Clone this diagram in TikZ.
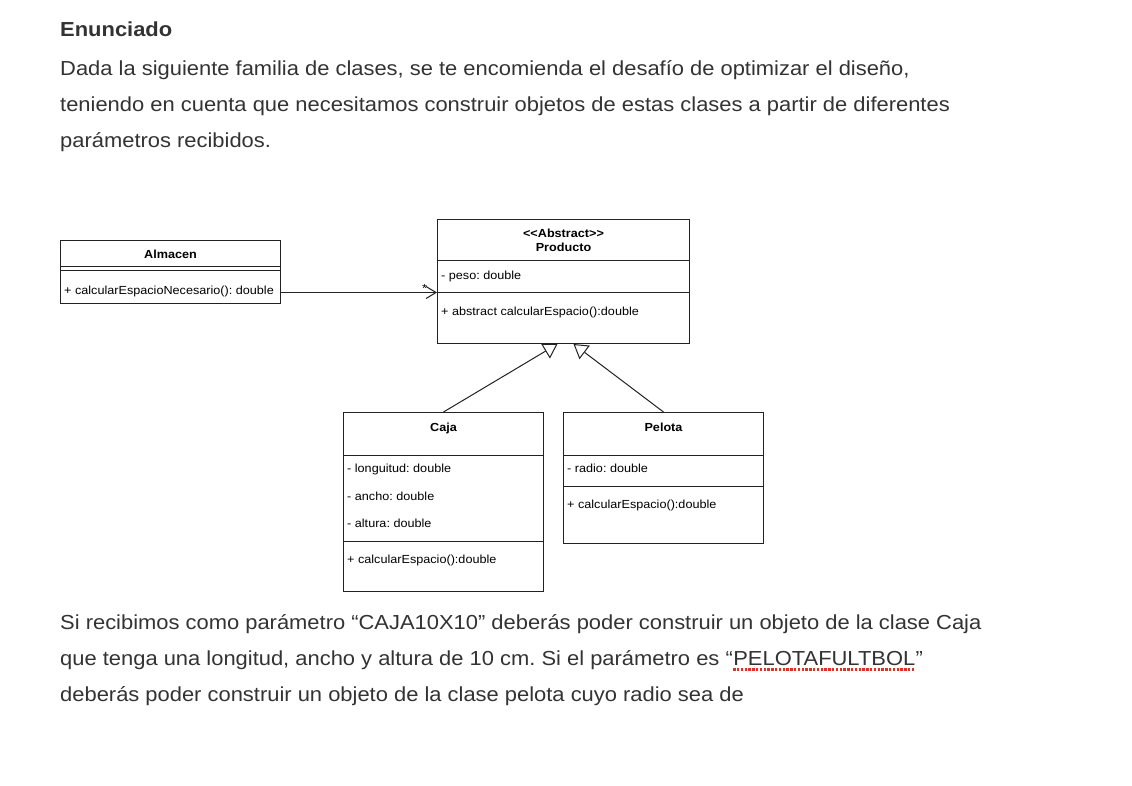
\documentclass[tikz,border=0pt]{standalone}
\usepackage{fontspec}
\setmainfont{Liberation Sans}[FakeStretch=1.08]
\usetikzlibrary{arrows.meta}
\frenchspacing
\definecolor{bodytxt}{HTML}{333333}
\definecolor{linec}{HTML}{222222}
\definecolor{squig}{HTML}{E0302A}
\tikzset{
  body/.style={anchor=base west, inner sep=0pt, text=bodytxt, font=\fontsize{20.3}{24}\selectfont},
  cls/.style={draw=linec, line width=1pt, fill=white, anchor=north west, inner sep=0pt},
  sep/.style={draw=linec, line width=1pt},
  mtext/.style={anchor=west, inner sep=0pt, text height=8.4pt, text depth=0pt, font=\fontsize{11.7}{14}\selectfont},
  ttext/.style={anchor=center, inner sep=0pt, text height=8.4pt, text depth=0pt, font=\fontsize{11.7}{14}\selectfont\bfseries},
  assoc/.style={draw=linec, line width=1pt, -{Straight Barb[length=10pt,width=12pt,line width=1pt]}},
  inherit/.style={draw=linec, line width=1pt, -{Triangle[open,length=14pt,width=17pt,line width=1pt,fill=white]}},
}
\begin{document}
\begin{tikzpicture}[x=1pt,y=-1pt]
\useasboundingbox[fill=white] (0,0) rectangle (1132,786);

% heading and body text
\node[body, font=\fontsize{20.3}{24}\selectfont\bfseries] (head) at (60,37) {Enunciado};
\node[body] (t1) at (60,76) {Dada la siguiente familia de clases, se te encomienda el desafío de optimizar el diseño,};
\node[body] (t2) at (60,112) {teniendo en cuenta que necesitamos construir objetos de estas clases a partir de diferentes};
\node[body] (t3) at (60,148) {parámetros recibidos.};

% Almacen
\node[cls, minimum width=220pt, minimum height=63pt] (alm) at (60,240) {};
\draw[sep] ([yshift=-27pt]alm.north west) -- ([yshift=-27pt]alm.north east);
\draw[sep] ([yshift=-31pt]alm.north west) -- ([yshift=-31pt]alm.north east);
\node[ttext] (almt) at ([yshift=-14pt]alm.north) {Almacen};
\node[mtext] (almm) at ([xshift=4pt,yshift=-50pt]alm.north west) {+ calcularEspacioNecesario(): double};

% Producto
\node[cls, minimum width=252pt, minimum height=124pt] (prod) at (437,219) {};
\node[ttext] (prods) at ([yshift=-14pt]prod.north) {<{}<Abstract>{}>};
\node[ttext] (prodt) at ([yshift=-28pt]prod.north) {Producto};
\draw[sep] ([yshift=-42pt]prod.north west) -- ([yshift=-42pt]prod.north east);
\node[mtext] (proda) at ([xshift=4pt,yshift=-56pt]prod.north west) {- peso: double};
\draw[sep] ([yshift=-74pt]prod.north west) -- ([yshift=-74pt]prod.north east);
\node[mtext] (prodm) at ([xshift=4pt,yshift=-92pt]prod.north west) {+ abstract calcularEspacio():double};

% Caja
\node[cls, minimum width=200pt, minimum height=179pt] (caja) at (343,412) {};
\node[ttext] (cajat) at ([yshift=-15pt]caja.north) {Caja};
\draw[sep] ([yshift=-43pt]caja.north west) -- ([yshift=-43pt]caja.north east);
\node[mtext] (cajaa1) at ([xshift=4pt,yshift=-56pt]caja.north west) {- longuitud: double};
\node[mtext] (cajaa2) at ([xshift=4pt,yshift=-84pt]caja.north west) {- ancho: double};
\node[mtext] (cajaa3) at ([xshift=4pt,yshift=-111pt]caja.north west) {- altura: double};
\draw[sep] ([yshift=-129pt]caja.north west) -- ([yshift=-129pt]caja.north east);
\node[mtext] (cajam) at ([xshift=4pt,yshift=-147pt]caja.north west) {+ calcularEspacio():double};

% Pelota
\node[cls, minimum width=200pt, minimum height=131pt] (pel) at (563,412) {};
\node[ttext] (pelt) at ([yshift=-15pt]pel.north) {Pelota};
\draw[sep] ([yshift=-43pt]pel.north west) -- ([yshift=-43pt]pel.north east);
\node[mtext] (pela) at ([xshift=4pt,yshift=-56pt]pel.north west) {- radio: double};
\draw[sep] ([yshift=-74pt]pel.north west) -- ([yshift=-74pt]pel.north east);
\node[mtext] (pelm) at ([xshift=4pt,yshift=-92pt]pel.north west) {+ calcularEspacio():double};

% connectors
\draw[assoc] ([yshift=-20.5pt]alm.east) -- node[pos=0.92, above=-1pt, inner sep=1pt, font=\fontsize{11.7}{14}\selectfont] {*} ([yshift=-11pt]prod.west);
\draw[inherit] (caja.north) -- ([xshift=-6pt]prod.south);
\draw[inherit] (pel.north) -- ([xshift=10pt]prod.south);

% closing text
\node[body] (b1) at (60,629) {Si recibimos como parámetro “CAJA10X10” deberás poder construir un objeto de la clase Caja};
\node[body] (b2a) at (60,665) {que tenga una longitud, ancho y altura de 10 cm. Si el parámetro es “};
\node[body] (b2w) at (b2a.base east) {PELOTAFULTBOL};
\node[body] (b2b) at (b2w.base east) {”};
\node[body] (b3) at (60,701) {deberás poder construir un objeto de la clase pelota cuyo radio sea de};
\draw[squig, line width=2.4pt, dash pattern=on 2.4pt off 1.4pt] ([yshift=-4.5pt]b2w.base west) -- ([yshift=-4.5pt]b2w.base east);
\end{tikzpicture}
\end{document}
